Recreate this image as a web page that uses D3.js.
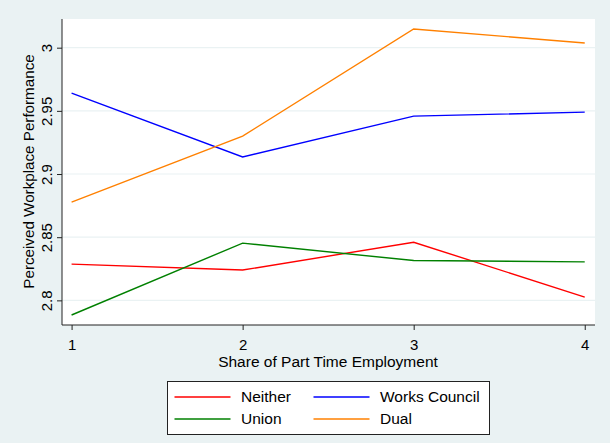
<!DOCTYPE html>
<html>
<head>
<meta charset="utf-8">
<script src="https://cdn.jsdelivr.net/npm/d3@7"></script>
<style>
  html, body { margin: 0; padding: 0; background: #eaf2f3; }
  svg { display: block; }
  text { font-family: "Liberation Sans", Arial, sans-serif; fill: #000; }
</style>
</head>
<body>
<div id="chart"></div>
<script>
// Share of part-time employment categories (x) and mean perceived performance
const categories = [1, 2, 3, 4];
const neither = [2.8287, 2.8240, 2.8460, 2.8026];
const worksCouncil = [2.9640, 2.9135, 2.9458, 2.9490];
const union = [2.7884, 2.8453, 2.8315, 2.8305];
const dual = [2.8778, 2.9300, 3.0148, 3.0037];
const yTicks = [2.8, 2.85, 2.9, 2.95, 3];
const yTickLabels = ["2.8", "2.85", "2.9", "2.95", "3"];
const xTickLabels = ["1", "2", "3", "4"];
const seriesNames = ["Neither", "Works Council", "Union", "Dual"];
const seriesColors = ["#ff0000", "#0000ff", "#008000", "#ff8000"];

const series = [
  { name: seriesNames[0], values: neither, color: seriesColors[0] },
  { name: seriesNames[1], values: worksCouncil, color: seriesColors[1] },
  { name: seriesNames[2], values: union, color: seriesColors[2] },
  { name: seriesNames[3], values: dual, color: seriesColors[3] }
];

const W = 610, H = 443;
const plot = { left: 62, right: 595, top: 19, bottom: 325 };

const svg = d3.select("#chart").append("svg")
  .attr("width", W).attr("height", H);

svg.append("rect").attr("x", 0).attr("y", 0).attr("width", W).attr("height", H)
  .attr("fill", "#eaf2f3");

const x = d3.scaleLinear().domain([0.944, 4.06]).range([plot.left, plot.right]);
const y = d3.scaleLinear().domain([2.7805, 3.0227]).range([plot.bottom, plot.top]);

// plot region
svg.append("rect")
  .attr("x", plot.left).attr("y", plot.top)
  .attr("width", plot.right - plot.left).attr("height", plot.bottom - plot.top)
  .attr("fill", "#ffffff");

// horizontal gridlines
svg.append("g").selectAll("line").data(yTicks).join("line")
  .attr("x1", plot.left).attr("x2", plot.right)
  .attr("y1", d => y(d)).attr("y2", d => y(d))
  .attr("stroke", "#eaf2f3").attr("stroke-width", 1.2);

// y axis
const yAxis = d3.axisLeft(y).tickValues(yTicks)
  .tickFormat((d, i) => yTickLabels[i]).tickSize(5).tickPadding(4);
const gy = svg.append("g").attr("transform", `translate(${plot.left},0)`).call(yAxis);
gy.select(".domain").attr("stroke", "#222").attr("stroke-width", 1)
  .attr("d", `M0,${plot.top}V${plot.bottom}`);
gy.selectAll(".tick line").attr("stroke", "#222");
gy.selectAll(".tick text")
  .attr("font-size", 15)
  .attr("font-family", "Liberation Sans, Arial, sans-serif")
  .attr("transform", "rotate(-90)")
  .attr("x", 0).attr("y", -10)
  .attr("dy", "0")
  .attr("text-anchor", "middle");

// x axis
const xAxis = d3.axisBottom(x).tickValues(categories)
  .tickFormat((d, i) => xTickLabels[i]).tickSize(5).tickPadding(3);
const gx = svg.append("g").attr("transform", `translate(0,${plot.bottom})`).call(xAxis);
gx.select(".domain").attr("stroke", "#222").attr("stroke-width", 1)
  .attr("d", `M${plot.left},0H${plot.right}`);
gx.selectAll(".tick line").attr("stroke", "#222");
gx.selectAll(".tick text")
  .attr("font-size", 15)
  .attr("font-family", "Liberation Sans, Arial, sans-serif")
  .attr("y", 24.5).attr("dy", "0");

// axis titles
svg.append("text")
  .attr("x", 328).attr("y", 367)
  .attr("text-anchor", "middle").attr("font-size", 15.5)
  .text("Share of Part Time Employment");

svg.append("text")
  .attr("transform", "translate(33.5,171.5) rotate(-90)")
  .attr("text-anchor", "middle").attr("font-size", 15.2)
  .text("Perceived Workplace Performance");

// series lines
const line = d3.line().x((d, i) => x(categories[i])).y(d => y(d));
svg.append("g").selectAll("path").data(series).join("path")
  .attr("d", d => line(d.values))
  .attr("fill", "none")
  .attr("stroke", d => d.color)
  .attr("stroke-width", 1.4);

// legend
const legend = svg.append("g");
legend.append("rect")
  .attr("x", 167.5).attr("y", 381.5).attr("width", 322).attr("height", 53)
  .attr("fill", "#ffffff").attr("stroke", "#222").attr("stroke-width", 1);

const legendPos = [
  { lx: 174.5, tx: 241, ty: 397 },
  { lx: 313.5, tx: 380, ty: 397 },
  { lx: 174.5, tx: 241, ty: 419 },
  { lx: 313.5, tx: 380, ty: 419 }
];
series.forEach((s, i) => {
  const p = legendPos[i];
  legend.append("line")
    .attr("x1", p.lx).attr("x2", p.lx + 56)
    .attr("y1", p.ty).attr("y2", p.ty)
    .attr("stroke", s.color).attr("stroke-width", 1.4);
  legend.append("text")
    .attr("x", p.tx).attr("y", p.ty).attr("dy", "0.35em")
    .attr("font-size", 15.5)
    .text(s.name);
});
</script>
</body>
</html>
